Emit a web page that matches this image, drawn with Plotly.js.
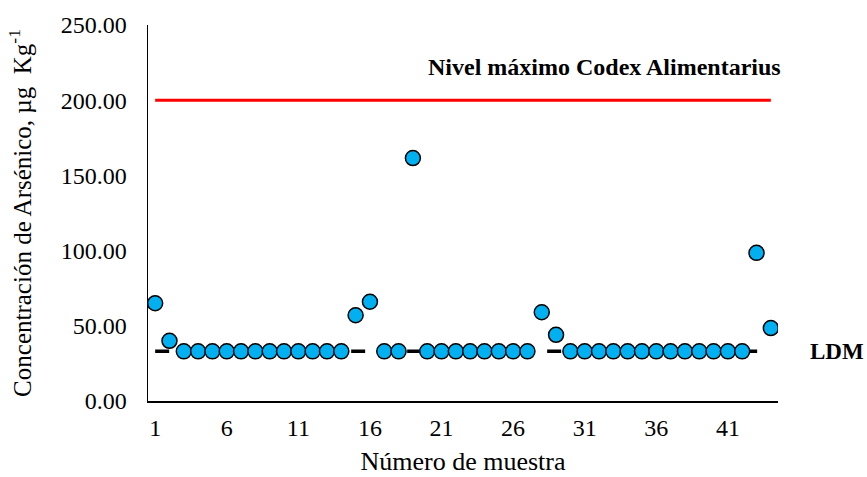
<!DOCTYPE html>
<html>
<head>
<meta charset="utf-8">
<script src="https://cdn.plot.ly/plotly-3.0.1.min.js"></script>
<style>html,body{margin:0;padding:0;background:#fff;}#chart{width:867px;height:477px;}</style>
</head>
<body>
<div id="chart"></div>
<script>
// Sample numbers 1..44
const samples = Array.from({length: 44}, (_, i) => i + 1);
// Arsenic concentration (µg Kg-1) per sample
const arsenic = [
  65, 40, 33, 33, 33, 33, 33, 33, 33, 33,
  33, 33, 33, 33, 57, 66, 33, 33, 161.5, 33,
  33, 33, 33, 33, 33, 33, 33, 59, 44, 33,
  33, 33, 33, 33, 33, 33, 33, 33, 33, 33,
  33, 33, 98.5, 48.5
];
// Reference levels
const codexLimit = 200;
const ldm = 33;
const refX = [1, 44];
const xTickVals = [1, 6, 11, 16, 21, 26, 31, 36, 41];
const yTickVals = [0, 50, 100, 150, 200, 250];
const labelCodex = "Nivel máximo Codex Alimentarius";
const labelLDM = "LDM";
const xTitle = "Número de muestra";
const yTitle = "Concentración de Arsénico, µg\u00A0\u00A0Kg<sup>-1</sup>";

const FONT = "'Liberation Serif', 'Times New Roman', serif";

const traces = [
  {
    x: refX, y: [codexLimit, codexLimit], mode: "lines", type: "scatter",
    line: {color: "#FF0000", width: 3}, hoverinfo: "skip", showlegend: false
  },
  {
    x: refX, y: [ldm, ldm], mode: "lines", type: "scatter",
    line: {color: "#000000", width: 3.5, dash: "14px,14px"}, hoverinfo: "skip", showlegend: false
  },
  {
    x: samples, y: arsenic, mode: "markers", type: "scatter",
    marker: {size: 15, color: "#00B0F0", line: {color: "#000000", width: 1.5}},
    showlegend: false
  }
];

const layout = {
  width: 867, height: 477,
  margin: {l: 148, r: 89, t: 25, b: 76},
  paper_bgcolor: "#ffffff", plot_bgcolor: "#ffffff",
  font: {family: FONT, size: 25, color: "#000000"},
  showlegend: false,
  xaxis: {
    range: [0.5, 44.5], tickvals: xTickVals, ticktext: xTickVals.map(String),
    showgrid: false, zeroline: false, showline: true, linecolor: "#000000", linewidth: 1.5,
    ticks: "", ticklen: 0, ticklabelstandoff: 5,
    tickfont: {family: FONT, size: 24, color: "#000"},
    title: {text: xTitle, font: {family: FONT, size: 26, color: "#000"}, standoff: 11}
  },
  yaxis: {
    range: [0, 250], tickvals: yTickVals, tickformat: ".2f",
    showgrid: false, zeroline: false, showline: true, linecolor: "#000000", linewidth: 1.5,
    ticks: "", ticklen: 0, ticklabelstandoff: 15,
    tickfont: {family: FONT, size: 24, color: "#000"},
    title: {text: yTitle, font: {family: FONT, size: 25, color: "#000"}, standoff: 22}
  },
  annotations: [
    {
      text: "<b>" + labelCodex + "</b>", xref: "paper", yref: "y", x: 1.008, y: 222,
      xanchor: "right", yanchor: "middle", showarrow: false,
      font: {family: FONT, size: 24, color: "#000"}
    },
    {
      text: "<b>" + labelLDM + "</b>", xref: "paper", yref: "y", x: 1.094, y: ldm,
      xanchor: "center", yanchor: "middle", showarrow: false,
      font: {family: FONT, size: 23, color: "#000"}
    }
  ]
};

Plotly.newPlot("chart", traces, layout, {displayModeBar: false, staticPlot: true});
</script>
</body>
</html>
